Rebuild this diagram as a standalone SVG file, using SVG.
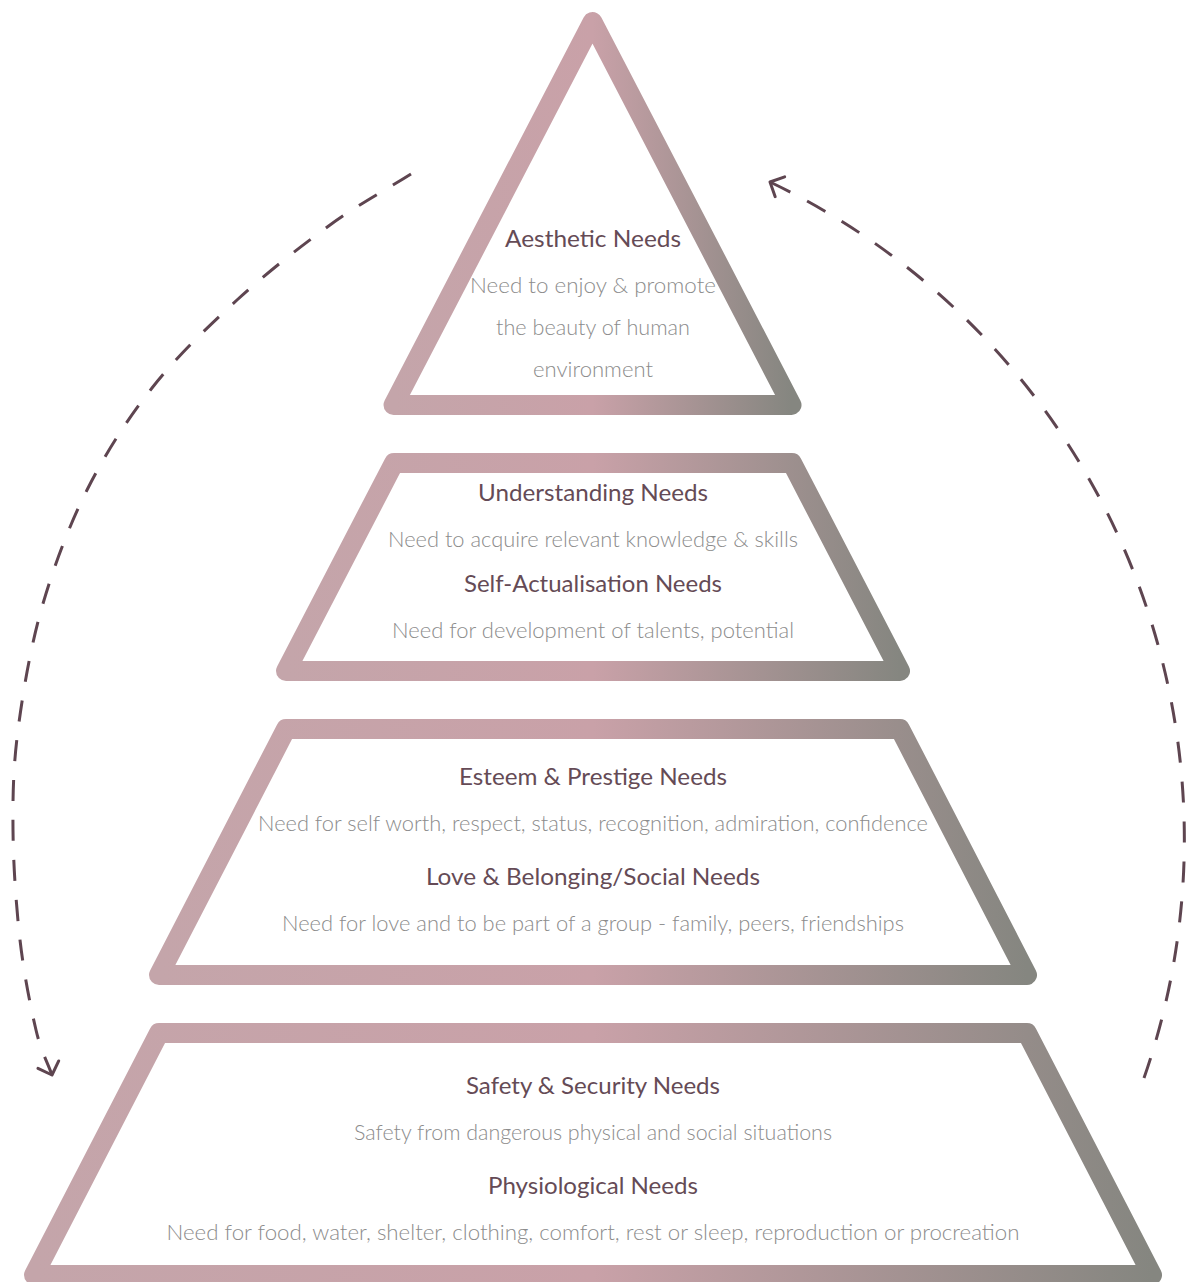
<svg xmlns="http://www.w3.org/2000/svg" width="1187" height="1282" viewBox="0 0 1187 1282">
  <defs>
    <linearGradient id="tierStroke" x1="0" y1="0" x2="1" y2="0">
      <stop offset="0" stop-color="#c4a5aa"/>
      <stop offset="0.5" stop-color="#c9a1a8"/>
      <stop offset="1" stop-color="#858680"/>
    </linearGradient>
    <marker id="chevron" markerUnits="userSpaceOnUse" orient="auto" markerWidth="30" markerHeight="30" viewBox="-15 -15 30 30" refX="0" refY="0" overflow="visible">
      <path d="M -11 -11 L 0 0 L -11 11" fill="none" stroke="#5e4550" stroke-width="3" stroke-linecap="round" stroke-linejoin="round"/>
    </marker>
    <style>
      .tier { fill: none; stroke: url(#tierStroke); stroke-width: 20; stroke-linejoin: round; }
      .title { font-family: "Lato", "Open Sans", "Liberation Sans", sans-serif; font-weight: 400; font-size: 24px; fill: #654b56; text-anchor: middle; }
      .desc { font-family: "Lato", "Open Sans", "Liberation Sans", sans-serif; font-weight: 300; font-size: 22px; fill: #8c8c8c; text-anchor: middle; }
      .cycle { fill: none; stroke: #5e4550; stroke-width: 3; stroke-dasharray: 21 19; marker-end: url(#chevron); }
    </style>
  </defs>

  <rect width="1187" height="1282" fill="#ffffff"/>

  <!-- dashed cycle arrows around the pyramid -->
  <g id="connectors">
    <path class="cycle" d="M 411 174 C 384 191, 359 204, 330 225 C 301 246, 266.7 272.8, 237 300 C 207.3 327.2, 177 356.3, 152 388 C 127 419.7, 105.3 453.5, 87 490 C 68.7 526.5, 53.5 567, 42 607 C 30.5 647, 22.8 692.8, 18 730 C 13.2 767.2, 12.7 795, 13 830 C 13.3 865, 16.2 906.7, 20 940 C 23.8 973.3, 30.7 1007.5, 36 1030 C 41.3 1052.5, 46.7 1060, 52 1075"/>
    <path class="cycle" d="M 1144 1078 A 728 728 0 0 0 770 182"/>
  </g>

  <!-- top: aesthetic needs -->
  <g id="tier-aesthetic">
    <polygon class="tier" points="592.5,22 791.5,405 393.5,405"/>
    <text class="title" x="593" y="247" textLength="176" lengthAdjust="spacingAndGlyphs">Aesthetic Needs</text>
    <text class="desc" x="593" y="293" textLength="246" lengthAdjust="spacingAndGlyphs">Need to enjoy &amp; promote</text>
    <text class="desc" x="593" y="335" textLength="194" lengthAdjust="spacingAndGlyphs">the beauty of human</text>
    <text class="desc" x="593" y="377" textLength="120" lengthAdjust="spacingAndGlyphs">environment</text>
  </g>

  <!-- second: understanding and self-actualisation -->
  <g id="tier-understanding">
    <polygon class="tier" points="394,463 792,463 900,671 286,671"/>
    <text class="title" x="593" y="501" textLength="230" lengthAdjust="spacingAndGlyphs">Understanding Needs</text>
    <text class="desc" x="593" y="547" textLength="410" lengthAdjust="spacingAndGlyphs">Need to acquire relevant knowledge &amp; skills</text>
    <text class="title" x="593" y="592" textLength="258" lengthAdjust="spacingAndGlyphs">Self-Actualisation Needs</text>
    <text class="desc" x="593" y="638" textLength="402" lengthAdjust="spacingAndGlyphs">Need for development of talents, potential</text>
  </g>

  <!-- third: esteem and belonging -->
  <g id="tier-esteem">
    <polygon class="tier" points="286,729 900,729 1027,975 159,975"/>
    <text class="title" x="593" y="785" textLength="268" lengthAdjust="spacingAndGlyphs">Esteem &amp; Prestige Needs</text>
    <text class="desc" x="593" y="831" textLength="670" lengthAdjust="spacingAndGlyphs">Need for self worth, respect, status, recognition, admiration, confidence</text>
    <text class="title" x="593" y="885" textLength="334" lengthAdjust="spacingAndGlyphs">Love &amp; Belonging/Social Needs</text>
    <text class="desc" x="593" y="931" textLength="622" lengthAdjust="spacingAndGlyphs">Need for love and to be part of a group - family, peers, friendships</text>
  </g>

  <!-- base: safety and physiological -->
  <g id="tier-safety">
    <polygon class="tier" points="159,1033 1027,1033 1152,1275 34,1275"/>
    <text class="title" x="593" y="1094" textLength="254" lengthAdjust="spacingAndGlyphs">Safety &amp; Security Needs</text>
    <text class="desc" x="593" y="1140" textLength="478" lengthAdjust="spacingAndGlyphs">Safety from dangerous physical and social situations</text>
    <text class="title" x="593" y="1194" textLength="210" lengthAdjust="spacingAndGlyphs">Physiological Needs</text>
    <text class="desc" x="593" y="1240" textLength="853" lengthAdjust="spacingAndGlyphs">Need for food, water, shelter, clothing, comfort, rest or sleep, reproduction or procreation</text>
  </g>
</svg>
